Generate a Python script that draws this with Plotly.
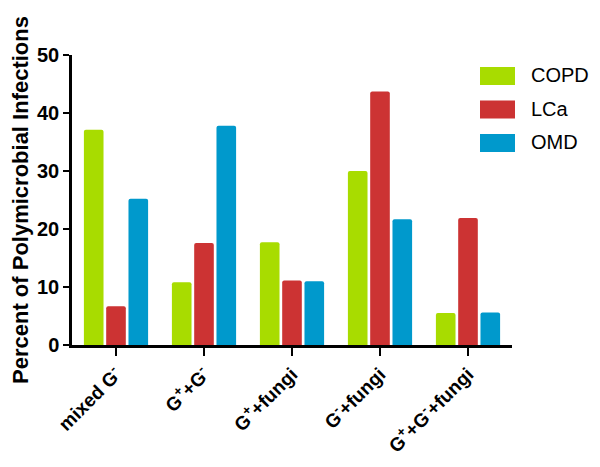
import plotly.graph_objects as go

categories = ["mixed G<sup>-</sup>", "G<sup>+</sup>+G<sup>-</sup>", "G<sup>+</sup>+fungi",
              "G<sup>-</sup>+fungi", "G<sup>+</sup>+G<sup>-</sup>+fungi"]
series_names = ["COPD", "LCa", "OMD"]
copd = [37.1, 10.8, 17.7, 30.0, 5.5]
lca = [6.7, 17.6, 11.1, 43.7, 21.9]
omd = [25.2, 37.8, 11.0, 21.7, 5.6]
colors = ["#A8DC00", "#CC3333", "#0099CC"]
y_ticks = [0, 10, 20, 30, 40, 50]

FONT = "Liberation Sans, Arial, sans-serif"

fig = go.Figure()
for name, vals, col in zip(series_names, [copd, lca, omd], colors):
    fig.add_trace(go.Bar(x=categories, y=vals, name=name,
                         marker=dict(color=col, line=dict(width=0), cornerradius=2),
                         showlegend=False))

# page body adds an 8px offset; figure coordinates below are page pixels minus 8
OFF = 8
W, H = 600 - OFF, 467 - OFF
L, T = 72 - OFF, 55 - OFF
R = W - (512 - OFF)
B = H - (345 - OFF)
pw, ph = W - L - R, H - T - B
def px(x):
    return (x - OFF - L) / pw
def py(y):
    return (H - B - (y - OFF)) / ph

for i, (name, col) in enumerate(zip(series_names, colors)):
    top = 67 + i * 33.5
    fig.add_shape(type="rect", xref="paper", yref="paper",
                  x0=px(480), x1=px(515), y0=py(top + 18), y1=py(top),
                  fillcolor=col, line=dict(width=0), layer="above")
    fig.add_annotation(xref="paper", yref="paper", x=px(529), y=py(top + 8),
                       text=name, showarrow=False, xanchor="left", yanchor="middle",
                       font=dict(family=FONT, size=20, color="black"))

fig.update_layout(
    width=W, height=H,
    margin=dict(l=L, r=R, t=T, b=B, pad=0, autoexpand=False),
    plot_bgcolor="white", paper_bgcolor="white",
    barmode="group", bargap=0.24, bargroupgap=0.12,
    font=dict(family=FONT, color="black"),
    xaxis=dict(range=[-0.5, 4.5], showline=True, linecolor="black", linewidth=2.5,
               ticks="outside", ticklen=8, tickwidth=2, tickcolor="black",
               tickangle=-45, showgrid=False, zeroline=False, automargin=False,
               tickfont=dict(family=FONT, size=19, color="black", weight="bold")),
    yaxis=dict(range=[0, 50], tickvals=y_ticks, showline=True, linecolor="black",
               linewidth=2.5, ticks="outside", ticklen=6, tickwidth=2, tickcolor="black",
               showgrid=False, zeroline=False, automargin=False,
               tickfont=dict(family=FONT, size=20, color="black", weight="bold"),
               title=dict(text="Percent of Polymicrobial Infections", standoff=10,
                          font=dict(family=FONT, size=22, color="black", weight="bold"))),
)

fig.write_html("out.html")
